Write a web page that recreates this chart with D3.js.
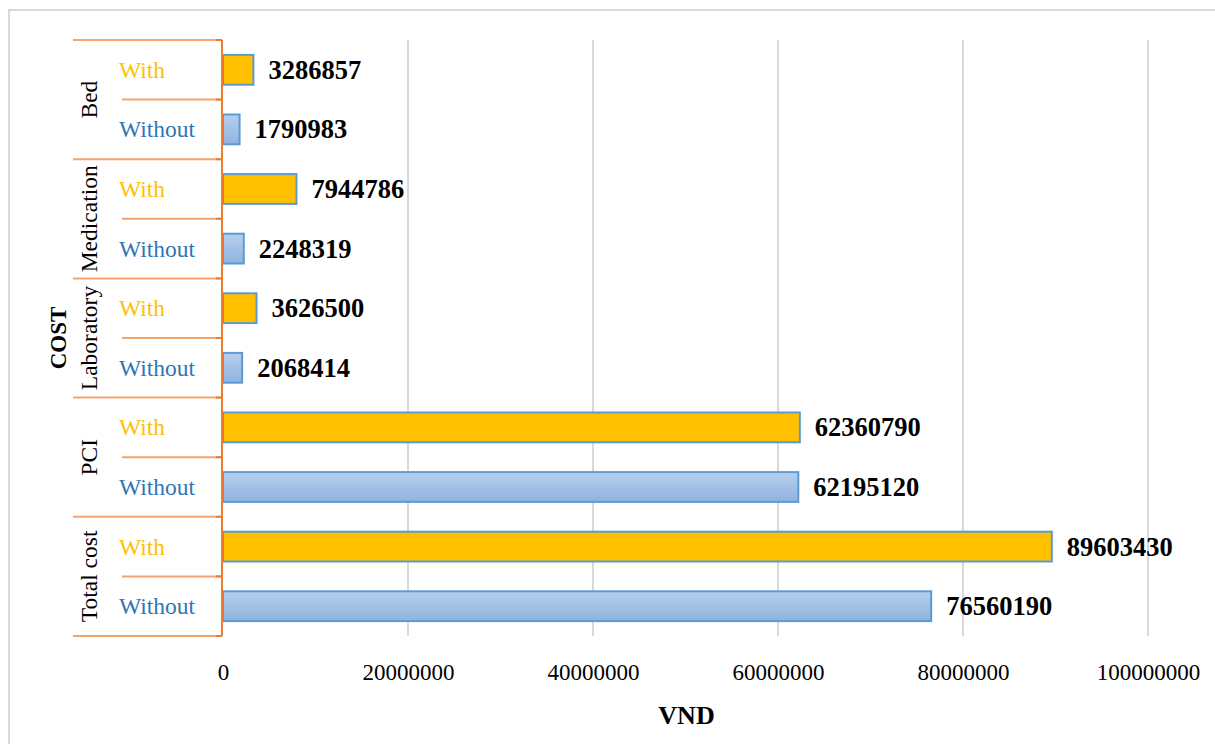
<!DOCTYPE html>
<html>
<head>
<meta charset="utf-8">
<script src="https://cdn.jsdelivr.net/npm/d3@7"></script>
<style>
  html, body { margin: 0; padding: 0; background: #fff; }
  svg { display: block; font-family: "Liberation Serif", "Times New Roman", serif; }
</style>
</head>
<body>
<svg id="chart" width="1215" height="744"></svg>
<script>
// Cost groups, listed top to bottom
const categories = ["Bed", "Medication", "Laboratory", "PCI", "Total cost"];
const groups = ["With", "Without"];
// VND per cost group
const withValues = [3286857, 7944786, 3626500, 62360790, 89603430];
const withoutValues = [1790983, 2248319, 2068414, 62195120, 76560190];
const xTicks = [0, 20000000, 40000000, 60000000, 80000000, 100000000];

const rows = [];
categories.forEach((c, i) => {
  rows.push({ cat: c, grp: groups[0], value: withValues[i], key: c + "|With" });
  rows.push({ cat: c, grp: groups[1], value: withoutValues[i], key: c + "|Without" });
});

const svg = d3.select("#chart");
const plotLeft = 223, plotRight = 1148, plotTop = 40, plotBottom = 636;

// outer chart frame
svg.append("rect")
  .attr("x", 9).attr("y", 10).attr("width", 1230).attr("height", 760)
  .attr("fill", "none").attr("stroke", "#d9d9d9").attr("stroke-width", 2);

const x = d3.scaleLinear().domain([0, 100000000]).range([plotLeft, plotRight]);
const y = d3.scaleBand().domain(rows.map(r => r.key)).range([plotTop, plotBottom])
  .paddingInner(0.5).paddingOuter(0.25);
const step = y.step();

// gradient for the "Without" bars
const defs = svg.append("defs");
const grad = defs.append("linearGradient").attr("id", "blueGrad")
  .attr("x1", 0).attr("y1", 0).attr("x2", 0).attr("y2", 1);
grad.append("stop").attr("offset", "0%").attr("stop-color", "#b7cfec");
grad.append("stop").attr("offset", "100%").attr("stop-color", "#8fb3df");

// vertical gridlines
svg.append("g").selectAll("line").data(xTicks.slice(1)).join("line")
  .attr("x1", d => x(d)).attr("x2", d => x(d))
  .attr("y1", plotTop).attr("y2", plotBottom)
  .attr("stroke", "#d9d9d9").attr("stroke-width", 2);

// x axis tick labels
const xAxis = d3.axisBottom(x).tickValues(xTicks).tickSize(0).tickPadding(0)
  .tickFormat(d3.format("d"));
const gx = svg.append("g").attr("transform", `translate(0,${plotBottom})`).call(xAxis);
gx.select(".domain").remove();
gx.selectAll("text")
  .attr("y", 44).attr("dy", null)
  .attr("font-family", "Liberation Serif").attr("font-size", 23)
  .attr("fill", "#000");

// bars
svg.append("g").selectAll("rect").data(rows).join("rect")
  .attr("x", x(0))
  .attr("y", d => y(d.key))
  .attr("width", d => x(d.value) - x(0))
  .attr("height", y.bandwidth())
  .attr("fill", d => d.grp === "With" ? "#ffc000" : "url(#blueGrad)")
  .attr("stroke", "#5b9bd5").attr("stroke-width", 2);

// value labels
svg.append("g").selectAll("text").data(rows).join("text")
  .attr("x", d => x(d.value) + 15)
  .attr("y", d => y(d.key) + y.bandwidth() / 2 + 9)
  .attr("font-size", 26.5).attr("font-weight", "bold").attr("fill", "#000")
  .text(d => d.value);

// multi-level category axis
const axisColor = "#ed7d31", lineColor = "#f4a46f";
const ga = svg.append("g");
const rowTop = k => y(k) - step * y.paddingInner() / 2;

// row separators inside each group
rows.filter(r => r.grp === "Without").forEach(r => {
  const yy = rowTop(r.key);
  ga.append("line").attr("x1", 122).attr("x2", plotLeft - 1).attr("y1", yy).attr("y2", yy)
    .attr("stroke", lineColor).attr("stroke-width", 2);
});
// group separators
const groupEdges = categories.map(c => rowTop(c + "|With")).concat([plotBottom]);
groupEdges.forEach(yy => {
  ga.append("line").attr("x1", 73).attr("x2", plotLeft - 1).attr("y1", yy).attr("y2", yy)
    .attr("stroke", lineColor).attr("stroke-width", 2);
});
// short ticks at the axis
groupEdges.concat(rows.filter(r => r.grp === "Without").map(r => rowTop(r.key))).forEach(yy => {
  ga.append("line").attr("x1", plotLeft - 7).attr("x2", plotLeft - 1).attr("y1", yy).attr("y2", yy)
    .attr("stroke", axisColor).attr("stroke-width", 2);
});
// axis line
ga.append("line").attr("x1", plotLeft - 1).attr("x2", plotLeft - 1).attr("y1", plotTop).attr("y2", plotBottom)
  .attr("stroke", axisColor).attr("stroke-width", 2);

// inner labels (With / Without)
ga.selectAll("text.grp").data(rows).join("text")
  .attr("class", "grp")
  .attr("x", 119)
  .attr("y", d => y(d.key) + y.bandwidth() / 2 + 8)
  .attr("font-size", 23.5)
  .attr("fill", d => d.grp === "With" ? "#ffc000" : "#2e75b6")
  .text(d => d.grp);

// outer labels (cost groups), rotated
ga.selectAll("text.cat").data(categories).join("text")
  .attr("class", "cat")
  .attr("transform", (d, i) => {
    const cy = (groupEdges[i] + groupEdges[i + 1]) / 2;
    return `translate(97,${cy}) rotate(-90)`;
  })
  .attr("text-anchor", "middle")
  .attr("font-size", 23.5).attr("fill", "#000")
  .text(d => d);

// axis titles
svg.append("text")
  .attr("transform", `translate(66,${(plotTop + plotBottom) / 2}) rotate(-90)`)
  .attr("text-anchor", "middle")
  .attr("font-size", 23).attr("font-weight", "bold").attr("fill", "#000")
  .text("COST");
svg.append("text")
  .attr("x", (plotLeft + plotRight) / 2 + 1).attr("y", 724)
  .attr("text-anchor", "middle")
  .attr("font-size", 26).attr("font-weight", "bold").attr("fill", "#000")
  .text("VND");
</script>
</body>
</html>
